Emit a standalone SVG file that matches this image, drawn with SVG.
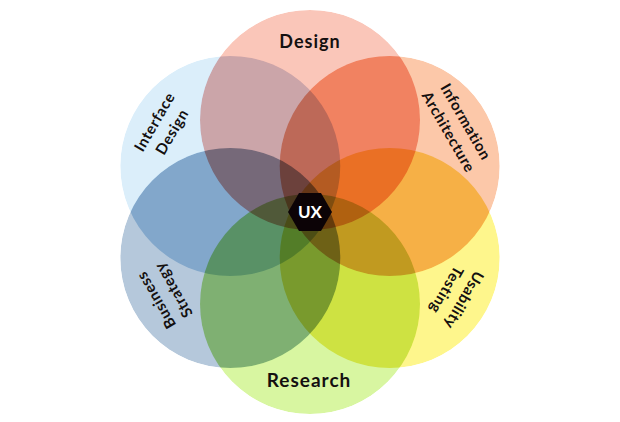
<svg xmlns="http://www.w3.org/2000/svg" width="620" height="422" viewBox="0 0 620 422">
  <style>
    .c { mix-blend-mode: multiply; }
    .lbl { font-family: Lato, "Noto Sans", "DejaVu Sans", sans-serif; font-weight: 700; fill: #141010; text-anchor: middle; }
    .big { font-size: 18px; letter-spacing: 1px; }
    .sm { font-size: 15px; letter-spacing: 0.6px; }
    .ux { font-family: Lato, "Noto Sans", "DejaVu Sans", sans-serif; font-weight: 700; font-size: 17px; fill: #ffffff; text-anchor: middle; }
  </style>
  <defs>
    <filter id="tone" filterUnits="userSpaceOnUse" x="0" y="0" width="620" height="422" color-interpolation-filters="sRGB">
      <feColorMatrix type="matrix" values="-1 0 0 0 1  0 -1 0 0 1  0 0 -1 0 1  0 0 0 1 0"/>
      <feComponentTransfer>
        <feFuncR type="gamma" amplitude="1" exponent="1.8" offset="0"/>
        <feFuncG type="gamma" amplitude="1" exponent="1.8" offset="0"/>
        <feFuncB type="gamma" amplitude="1" exponent="1.8" offset="0"/>
      </feComponentTransfer>
      <feColorMatrix type="matrix" values="-1 0 0 0 1  0 -1 0 0 1  0 0 -1 0 1  0 0 0 1 0"/>
    </filter>
  </defs>
  <rect width="620" height="422" fill="#ffffff"/>
  <g id="circles" filter="url(#tone)">
    <rect width="620" height="422" fill="#ffffff"/>
    <circle id="c-design" class="c" cx="310" cy="120" r="110" fill="rgb(226,144,130)"/>
    <circle id="c-ia" class="c" cx="389.7" cy="166" r="110" fill="rgb(230,146,115)"/>
    <circle id="c-usability" class="c" cx="389.7" cy="258" r="110" fill="rgb(238,213,91)"/>
    <circle id="c-research" class="c" cx="310" cy="304" r="110" fill="rgb(164,213,108)"/>
    <circle id="c-business" class="c" cx="230.3" cy="258" r="110" fill="rgb(126,146,168)"/>
    <circle id="c-interface" class="c" cx="230.3" cy="166" r="110" fill="rgb(168,198,226)"/>
  </g>
  <g id="design">
    <text class="lbl big" x="310" y="48">Design</text>
  </g>
  <g id="information-architecture" transform="translate(457,127) rotate(60)">
    <text class="lbl sm" x="0" y="-5">Information</text>
    <text class="lbl sm" x="0" y="15">Architecture</text>
  </g>
  <g id="usability-testing" transform="translate(455,295) rotate(120)">
    <text class="lbl sm" x="0" y="-5">Usability</text>
    <text class="lbl sm" x="0" y="15">Testing</text>
  </g>
  <g id="research">
    <text class="lbl big" x="309" y="387" style="font-size:19px">Research</text>
  </g>
  <g id="business-strategy" transform="translate(165,295) rotate(-120)">
    <text class="lbl sm" x="0" y="-5">Business</text>
    <text class="lbl sm" x="0" y="15">Strategy</text>
  </g>
  <g id="interface-design" transform="translate(163.5,127) rotate(-60)">
    <text class="lbl sm" x="0" y="-5">Interface</text>
    <text class="lbl sm" x="0" y="15">Design</text>
  </g>
  <g id="ux">
    <polygon points="288,212 299,193 321,193 332,212 321,231 299,231" fill="#0c0306"/>
    <text class="ux" x="310" y="218">UX</text>
  </g>
</svg>
